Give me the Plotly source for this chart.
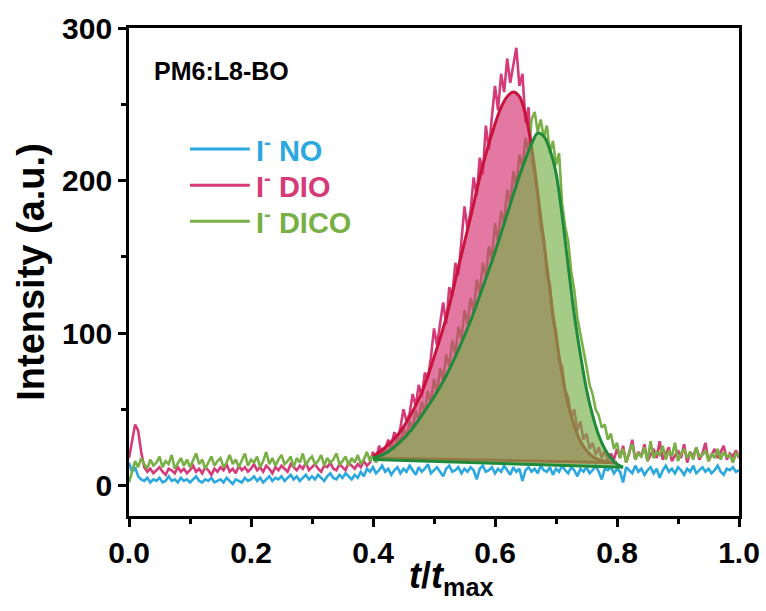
import plotly.graph_objects as go

# sampling grid of the recorded traces (step 0.005)
T = [round(i * 0.005, 3) for i in range(201)]

BLUE_NO = [
    15, 9, 12, 6, 4, 3, 5, 2, 4, 3,
    5, 2, 3, 6, 3, 4, 2, 5, 3, 4,
    2, 4, 6, 3, 2, 4, 3, 5, 2, 3,
    4, 2, 5, 3, 1, 4, 3, 2, 5, 3,
    4, 6, 3, 5, 2, 4, 6, 3, 5, 4,
    6, 3, 5, 7, 4, 6, 3, 5, 7, 4,
    6, 4, 7, 5, 3, 6, 8, 5, 4, 7,
    5, 8, 6, 4, 7, 5, 9, 6, 11, 9,
    12, 8, 10, 13, 9, 11, 7, 10, 12, 8,
    11, 9, 13, 10, 7, 12, 9, 11, 14, 8,
    10, 12, 9, 6, 11, 13, 9, 10, 12, 8,
    11, 9, 12, 10, 4, 11, 13, 9, 10, 12,
    8, 11, 9, 13, 10, 7, 12, 9, 11, 3,
    10, 12, 9, 11, 8, 13, 10, 9, 12, 7,
    11, 9, 13, 10, 8, 12, 10, 6, 11, 9,
    12, 8, 10, 13, 9, 4, 11, 10, 12, 8,
    11, 9, 2, 12, 10, 8, 13, 9, 11, 7,
    10, 12, 8, 11, 5, 10, 13, 9, 11, 8,
    12, 10, 7, 11, 9, 13, 8, 10, 12, 9,
    11, 8, 10, 13, 9, 7, 11, 10, 12, 9,
    10,
]

PINK_DIO = [
    18, 28, 40, 36, 22, 12, 9, 11, 8, 10,
    12, 9, 7, 11, 10, 8, 12, 9, 11, 8,
    10, 13, 9, 11, 8, 12, 10, 7, 11, 9,
    12, 10, 14, 9, 11, 8, 13, 10, 12, 9,
    11, 14, 10, 12, 9, 13, 11, 8, 12, 10,
    13, 11, 9, 14, 12, 10, 13, 11, 15, 10,
    12, 14, 11, 9, 13, 12, 15, 11, 10, 14,
    12, 10, 15, 13, 11, 14, 12, 16, 13, 15,
    22, 17, 26, 21, 24, 30, 26, 35, 30, 38,
    50, 42, 47, 60, 52, 66, 58, 74, 70, 84,
    103, 92, 105, 120, 106, 130, 124, 146, 138, 160,
    183, 168, 180, 202, 190, 215, 204, 236, 220, 242,
    262, 246, 270, 258, 280, 264, 276, 287, 262, 270,
    238, 248, 214, 204, 190, 168, 162, 138, 132, 108,
    102, 82, 78, 62, 58, 44, 50, 36, 42, 30,
    34, 24, 28, 20, 25, 18, 23, 16, 21, 17,
    24,
    18, 26, 15, 21, 30, 17, 22, 19, 27, 16,
    20, 24, 18, 29, 17, 21, 25, 16, 20, 23,
    18, 27, 15, 22, 19, 25, 17, 21, 28, 16,
    20, 24, 18, 22, 26, 17, 21, 19, 23, 18,
]

GREEN_DICO = [
    2, 10, 16, 12, 18, 14, 11, 17, 13, 15,
    19, 12, 16, 14, 20, 11, 15, 18, 13, 17,
    12, 16, 21, 14, 17, 11, 15, 19, 13, 16,
    18, 12, 15, 20, 14, 17, 12, 16, 21, 13,
    17, 15, 19, 12, 16, 22, 14, 18, 13, 17,
    20, 14, 16, 19, 12, 18, 15, 21, 13, 17,
    19, 14, 16, 20, 13, 18, 15, 17, 21, 14,
    16, 19, 13, 18, 15, 20, 14, 17, 22, 16,
    20, 15, 22, 18, 24, 21, 28, 23, 32, 27,
    38, 31, 42, 37, 49, 43, 55, 48, 62, 54,
    70, 61, 77, 69, 86, 78, 95, 86, 104, 96,
    115, 106, 123, 114, 135, 126, 146, 137, 157, 148,
    172, 160, 180, 172, 194, 184, 206, 196, 217, 208,
    228, 218, 240, 245, 232, 240, 228, 236, 218, 226,
    210, 218, 185, 170, 160, 140, 128, 110, 100, 88,
    78, 66, 60, 50, 46, 38, 40, 30, 34, 24,
    28,
    18, 24, 15, 22, 27, 17, 21, 19, 25, 16,
    29, 18, 22, 20, 26, 17, 23, 19, 28, 16,
    21, 24, 18, 22, 17, 25, 19, 20, 23, 16,
    21, 18, 24, 17, 22, 19, 20, 15, 21, 19,
]

# fitted peaks
FIT_PINK_X = [0.40, 0.42, 0.44, 0.46, 0.48, 0.50, 0.52, 0.54, 0.56, 0.58, 0.60,
              0.61, 0.62, 0.63, 0.64, 0.65, 0.66, 0.67, 0.68, 0.69, 0.70, 0.71,
              0.72, 0.73, 0.74, 0.75, 0.76, 0.77, 0.78, 0.79, 0.80]
FIT_PINK_Y = [19, 25, 33, 45, 61, 84, 110, 143, 176, 210, 237,
              248, 255, 258, 255, 243, 222, 192, 160, 128, 98, 73,
              53, 39, 29, 23, 19, 17, 16, 15, 15]
FIT_GREEN_X = [0.40, 0.42, 0.44, 0.46, 0.48, 0.50, 0.52, 0.54, 0.56, 0.58, 0.60,
               0.62, 0.64, 0.65, 0.66, 0.67, 0.68, 0.69, 0.70, 0.71, 0.72, 0.73,
               0.74, 0.75, 0.76, 0.77, 0.78, 0.79, 0.80, 0.81]
FIT_GREEN_Y = [18, 21, 27, 35, 46, 58, 72, 89, 108, 130, 153,
               178, 203, 214, 224, 231, 229, 220, 205, 177, 144, 112,
               86, 63, 46, 33, 24, 18, 14, 12]
BASE_PINK_X = [0.40, 0.80]
BASE_PINK_Y = [18, 15]
BASE_GREEN_X = [0.40, 0.81]
BASE_GREEN_Y = [17, 12]

C_BLUE = "#2BA8E0"
C_PINK = "#D63A78"
C_GREEN = "#78B045"
C_PINK_FIT = "#C8143C"
C_GREEN_FIT = "#1F8A3A"

FONT = "Liberation Sans"

fig = go.Figure()
for y, c in [(BLUE_NO, C_BLUE), (PINK_DIO, C_PINK), (GREEN_DICO, C_GREEN)]:
    fig.add_trace(go.Scatter(x=T, y=y, mode="lines", line=dict(color=c, width=2.6),
                             showlegend=False, hoverinfo="skip"))

# pink fitted area
fig.add_trace(go.Scatter(x=FIT_PINK_X + BASE_PINK_X[::-1], y=FIT_PINK_Y + BASE_PINK_Y[::-1],
                         mode="none", fill="toself", fillcolor="rgba(214,56,120,0.68)",
                         showlegend=False, hoverinfo="skip"))
fig.add_trace(go.Scatter(x=FIT_PINK_X, y=FIT_PINK_Y, mode="lines",
                         line=dict(color=C_PINK_FIT, width=3, shape="spline"),
                         showlegend=False, hoverinfo="skip"))
fig.add_trace(go.Scatter(x=BASE_PINK_X, y=BASE_PINK_Y, mode="lines",
                         line=dict(color=C_PINK_FIT, width=3), showlegend=False, hoverinfo="skip"))
# green fitted area
fig.add_trace(go.Scatter(x=FIT_GREEN_X + BASE_GREEN_X[::-1], y=FIT_GREEN_Y + BASE_GREEN_Y[::-1],
                         mode="none", fill="toself", fillcolor="rgba(118,175,70,0.65)",
                         showlegend=False, hoverinfo="skip"))
fig.add_trace(go.Scatter(x=FIT_GREEN_X, y=FIT_GREEN_Y, mode="lines",
                         line=dict(color=C_GREEN_FIT, width=3, shape="spline"),
                         showlegend=False, hoverinfo="skip"))
fig.add_trace(go.Scatter(x=BASE_GREEN_X, y=BASE_GREEN_Y, mode="lines",
                         line=dict(color=C_GREEN_FIT, width=3), showlegend=False, hoverinfo="skip"))

# legend (hand-made, coloured labels)
LEG_LABELS = ["I<sup>-</sup> NO", "I<sup>-</sup> DIO", "I<sup>-</sup> DICO"]
LEG_COLORS = [C_BLUE, C_PINK, C_GREEN]
LEG_Y = [0.752, 0.678, 0.604]
for lab, col, ly in zip(LEG_LABELS, LEG_COLORS, LEG_Y):
    fig.add_shape(type="line", xref="paper", yref="paper", x0=0.10, x1=0.198, y0=ly, y1=ly,
                  line=dict(color=col, width=3))
    fig.add_annotation(xref="paper", yref="paper", x=0.205, y=ly, xanchor="left", yanchor="middle",
                       text=f"<b>{lab}</b>", showarrow=False,
                       font=dict(family=FONT, size=29, color=col))

fig.add_annotation(xref="paper", yref="paper", x=0.037, y=0.912, xanchor="left", yanchor="middle",
                   text="<b>PM6:L8-BO</b>", showarrow=False, font=dict(family=FONT, size=25, color="black"))

# x-axis title
fig.add_annotation(xref="paper", yref="paper", x=0.528, y=-0.128, xanchor="center", yanchor="middle",
                   text="<b><i>t</i>/<i>t</i><sub>max</sub></b>", showarrow=False,
                   font=dict(family=FONT, size=36, color="black"))

axis_common = dict(showgrid=False, zeroline=False, showline=True, linecolor="black", linewidth=2.8,
                   mirror=True, ticks="outside", tickwidth=2.8, ticklen=8, tickcolor="black",
                   automargin=False,
                   tickfont=dict(family=FONT, size=30, color="black", weight="bold"))
fig.update_xaxes(range=[0, 1], tickvals=[0, 0.2, 0.4, 0.6, 0.8, 1.0], tickformat=".1f",
                 minor=dict(tickvals=[0.1, 0.3, 0.5, 0.7, 0.9], ticklen=5, tickwidth=2.8,
                            tickcolor="black", ticks="outside"),
                 **axis_common)
fig.update_yaxes(range=[-20, 300], tickvals=[0, 100, 200, 300],
                 minor=dict(tickvals=[50, 150, 250], ticklen=5, tickwidth=2.8,
                            tickcolor="black", ticks="outside"),
                 title=dict(text="<b>Intensity (a.u.)</b>",
                            font=dict(family=FONT, size=38, color="black"), standoff=6),
                 **axis_common)

fig.update_layout(width=766, height=611, margin=dict(l=129, r=27, t=28, b=95),
                  plot_bgcolor="white", paper_bgcolor="white", showlegend=False)

fig.write_html("out.html")
